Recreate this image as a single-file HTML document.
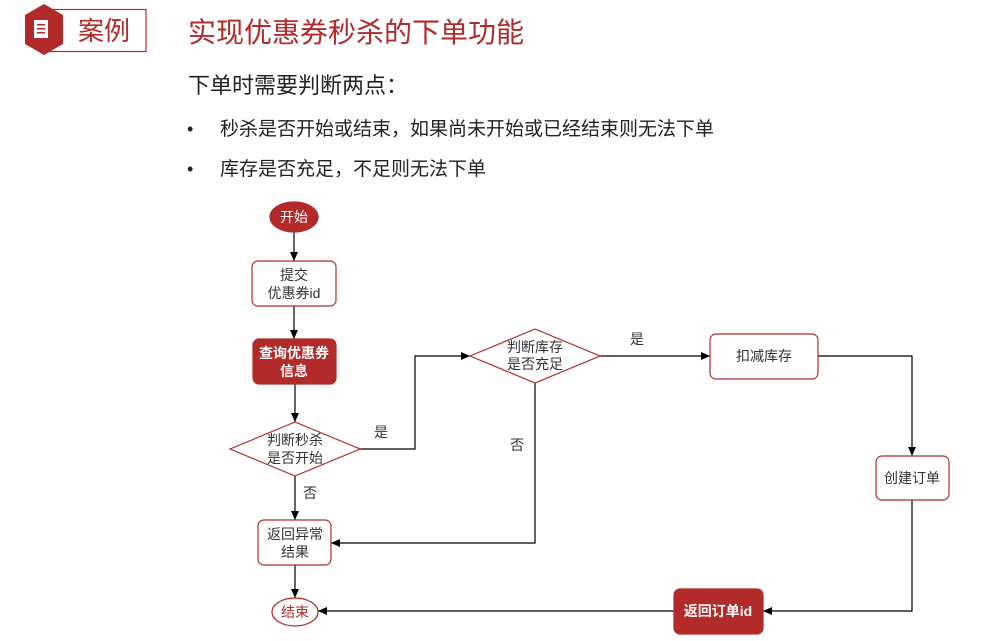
<!DOCTYPE html>
<html><head><meta charset="utf-8"><style>
body{margin:0;width:998px;height:641px;background:#fff;overflow:hidden;font-family:"Liberation Sans","Noto Sans CJK SC",sans-serif;}
svg{position:absolute;left:0;top:0}
</style></head><body>
<svg width="998" height="641" viewBox="0 0 998 641" font-family="Liberation Sans, Noto Sans CJK SC, sans-serif">
<defs><marker id="a" markerWidth="10" markerHeight="10" refX="9" refY="5" orient="auto" markerUnits="userSpaceOnUse"><path d="M0,1 L9,5 L0,9 Z" fill="#000"/></marker></defs>
<!-- header -->
<rect x="45" y="9.5" width="101" height="42" fill="none" stroke="#b22a2a" stroke-width="1.2"/>
<polygon points="44,4 63,15 63,44 44,55 25,44 25,15" fill="#b22a2a"/>
<rect x="34" y="20" width="14" height="18" fill="#fff"/>
<rect x="37" y="24" width="8" height="1.5" fill="#b22a2a"/><rect x="37" y="28" width="8" height="1.5" fill="#b22a2a"/><rect x="37" y="32" width="8" height="1.5" fill="#b22a2a"/>
<text x="78" y="40" font-size="26" fill="#b22a2a">案例</text>
<text x="188" y="42" font-size="28" fill="#b22a2a">实现优惠券秒杀的下单功能</text>
<text x="188" y="93" font-size="22" fill="#222">下单时需要判断两点：</text>
<text x="187" y="135" font-size="18" fill="#222">•</text>
<text x="220" y="135" font-size="19" fill="#222">秒杀是否开始或结束，如果尚未开始或已经结束则无法下单</text>
<text x="187" y="175" font-size="18" fill="#222">•</text>
<text x="220" y="175" font-size="19" fill="#222">库存是否充足，不足则无法下单</text>
<!-- connectors -->
<g stroke="#000" stroke-width="1.2" fill="none">
<line x1="294" y1="232" x2="294" y2="261" marker-end="url(#a)"/>
<line x1="294" y1="306" x2="294" y2="339" marker-end="url(#a)"/>
<line x1="295" y1="384" x2="295" y2="422" marker-end="url(#a)"/>
<line x1="295" y1="476" x2="295" y2="520" marker-end="url(#a)"/>
<line x1="295" y1="565" x2="295" y2="598" marker-end="url(#a)"/>
<polyline points="360,449 415,449 415,356 470,356" marker-end="url(#a)"/>
<polyline points="535,383 535,543 331,543" marker-end="url(#a)"/>
<line x1="600" y1="356" x2="710" y2="356" marker-end="url(#a)"/>
<polyline points="818,356 912,356 912,456" marker-end="url(#a)"/>
<polyline points="912,500 912,611 763,611" marker-end="url(#a)"/>
<line x1="674" y1="611" x2="318" y2="611" marker-end="url(#a)"/>
</g>
<!-- nodes -->
<g stroke="#b22a2a" stroke-width="1.2">
<ellipse cx="294" cy="217" rx="24" ry="15" fill="#b22a2a"/>
<rect x="252" y="261" width="84" height="45" rx="6" fill="#fff"/>
<rect x="253" y="339" width="83" height="45" rx="6" fill="#b22a2a"/>
<polygon points="230,449 295,422 360,449 295,476" fill="#fff"/>
<rect x="258" y="520" width="73" height="45" rx="6" fill="#fff"/>
<ellipse cx="295" cy="612" rx="23" ry="14" fill="#fff"/>
<polygon points="470,356 535,329 600,356 535,383" fill="#fff"/>
<rect x="710" y="334" width="108" height="45" rx="6" fill="#fff"/>
<rect x="876" y="456" width="73" height="44" rx="6" fill="#fff"/>
<rect x="674" y="589" width="89" height="45" rx="6" fill="#b22a2a"/>
</g>
<g font-size="14" text-anchor="middle" fill="#333">
<text x="294" y="222" fill="#fff">开始</text>
<text x="294" y="280">提交</text><text x="294" y="298">优惠券id</text>
<text x="294" y="358" fill="#fff" font-weight="bold">查询优惠券</text><text x="294" y="376" fill="#fff" font-weight="bold">信息</text>
<text x="295" y="445">判断秒杀</text><text x="295" y="463">是否开始</text>
<text x="295" y="539">返回异常</text><text x="295" y="557">结果</text>
<text x="295" y="617" fill="#b22a2a">结束</text>
<text x="535" y="352">判断库存</text><text x="535" y="369">是否充足</text>
<text x="764" y="361">扣减库存</text>
<text x="912" y="483">创建订单</text>
<text x="718" y="616" fill="#fff" font-weight="bold">返回订单id</text>
<text x="381" y="437">是</text><text x="637" y="344">是</text>
<text x="517" y="450">否</text><text x="310" y="498">否</text>
</g>
</svg>
</body></html>
